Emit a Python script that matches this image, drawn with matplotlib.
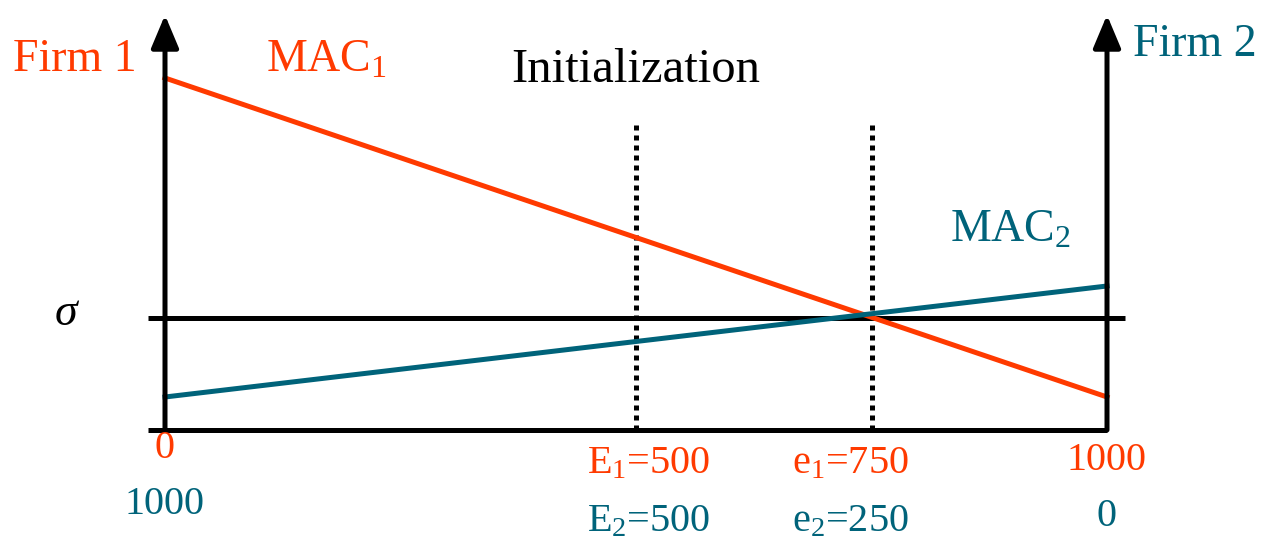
import matplotlib.pyplot as plt

plt.rcParams["font.family"] = ["Liberation Serif", "DejaVu Serif"]
plt.rcParams["mathtext.fontset"] = "custom"
plt.rcParams["mathtext.rm"] = "Liberation Serif"
plt.rcParams["mathtext.it"] = "Liberation Serif:italic"

ORANGE = "#FF3A00"
TEAL = "#00637A"

# abatement of firm 1 (firm 2 = 1000 - x)
x_ends = [0, 1000]
mac1 = [352, 33]
mac2 = [33, 144]
sigma = 112
y_top = 415
initial = 500
equilibrium = 750
dotted_top = 305

fig = plt.figure(figsize=(12.68, 5.44), dpi=100)
ax = fig.add_axes([0, 0, 1, 1])
ax.set_xlim(-165 / 0.942, (1268 - 165) / 0.942)
ax.set_ylim(-114, 430)
ax.axis("off")

lw = 3.6
# axes with arrows
for xa in x_ends:
    ax.annotate("", xy=(xa, y_top), xytext=(xa, 0),
                arrowprops=dict(arrowstyle="-|>,head_width=0.42,head_length=1.0",
                                lw=lw, color="black", mutation_scale=20,
                                shrinkA=0, shrinkB=0))
ax.plot([-18, 1000], [0, 0], color="black", lw=lw, solid_capstyle="butt")
ax.plot([-18, 1019], [sigma, sigma], color="black", lw=lw, solid_capstyle="butt")

# dotted verticals
for xv in [initial, equilibrium]:
    ax.plot([xv, xv], [0, dotted_top], color="black", lw=3.6,
            linestyle=(0, (1.0, 1.0)))

ax.plot(x_ends, mac1, color=ORANGE, lw=lw)
ax.plot(x_ends, mac2, color=TEAL, lw=lw)

fs = 33
ax.text(-30, 370, "Firm 1", color=ORANGE, fontsize=fs, ha="right", va="center")
ax.text(1028, 385, "Firm 2", color=TEAL, fontsize=fs, ha="left", va="center")
ax.text(500, 360, "Initialization", color="black", fontsize=35, ha="center", va="center")
ax.text(171, 370, r"MAC$_1$", color=ORANGE, fontsize=fs, ha="center", va="center")
ax.text(898, 200, r"MAC$_2$", color=TEAL, fontsize=fs, ha="center", va="center")
ax.text(-104, 116, r"$\sigma$", color="black", fontsize=fs, ha="center", va="center")

nfs = 29
ax.text(0, -18, "0", color=ORANGE, fontsize=nfs, ha="center", va="center")
ax.text(0, -74, "1000", color=TEAL, fontsize=nfs, ha="center", va="center")
ax.text(1000, -30, "1000", color=ORANGE, fontsize=nfs, ha="center", va="center")
ax.text(1000, -87, "0", color=TEAL, fontsize=nfs, ha="center", va="center")
ax.text(initial + 13, -34, r"E$_1$=500", color=ORANGE, fontsize=nfs, ha="center", va="center")
ax.text(initial + 13, -92, r"E$_2$=500", color=TEAL, fontsize=nfs, ha="center", va="center")
ax.text(equilibrium - 22, -34, r"e$_1$=750", color=ORANGE, fontsize=nfs, ha="center", va="center")
ax.text(equilibrium - 22, -92, r"e$_2$=250", color=TEAL, fontsize=nfs, ha="center", va="center")

fig.savefig("out.png", dpi=100)
